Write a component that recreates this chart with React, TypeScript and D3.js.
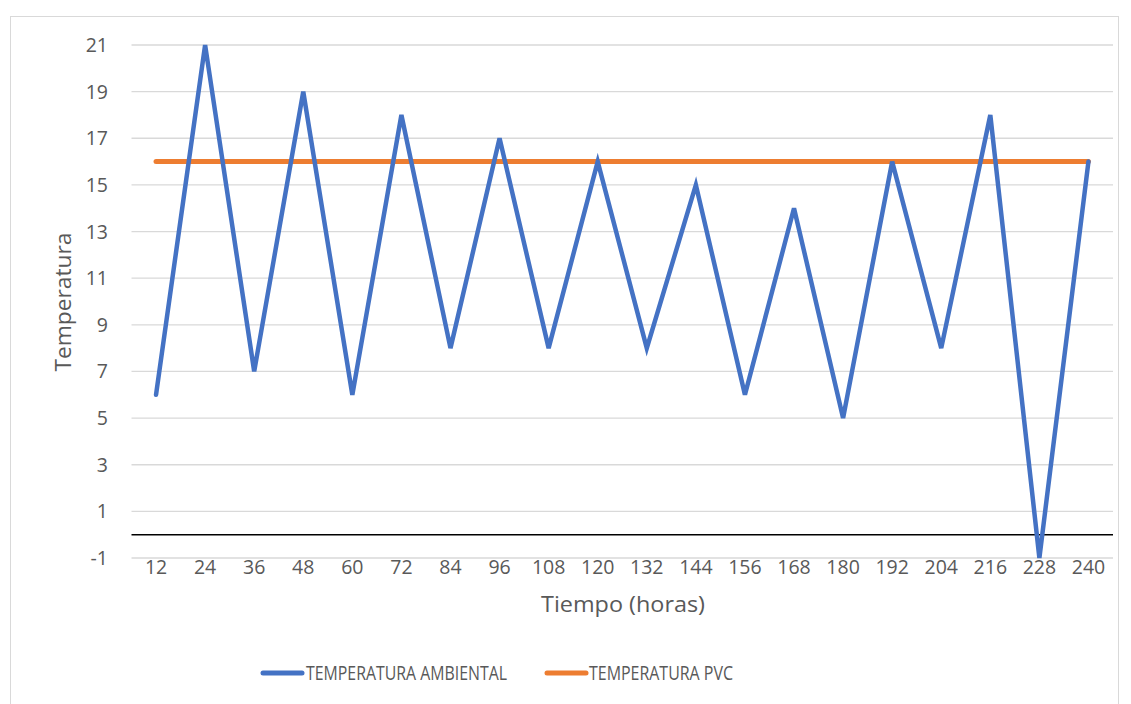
import React from "react";
import * as d3 from "d3";

const categories = [12, 24, 36, 48, 60, 72, 84, 96, 108, 120, 132, 144, 156, 168, 180, 192, 204, 216, 228, 240];
const ambiental = [6, 21, 7, 19, 6, 18, 8, 17, 8, 16, 8, 15, 6, 14, 5, 16, 8, 18, -1, 16];
const pvc = [16, 16, 16, 16, 16, 16, 16, 16, 16, 16, 16, 16, 16, 16, 16, 16, 16, 16, 16, 16];
const yTicks = [-1, 1, 3, 5, 7, 9, 11, 13, 15, 17, 19, 21];
const seriesNames = ["TEMPERATURA AMBIENTAL", "TEMPERATURA PVC"];
const colors = ["#4472C4", "#ED7D31"];

const W = 1131, H = 704;
const left = 131.5, right = 1113, top = 45, bottom = 558;
const FONT = "'Open Sans', 'Noto Sans', sans-serif";

export default function App() {
  const x = d3.scaleBand<number>().domain(categories).range([left, right]);
  const y = d3.scaleLinear().domain([-1, 21]).range([bottom, top]);
  const cx = (c: number) => (x(c) as number) + x.bandwidth() / 2;
  const line = d3.line<number>().x((_, i) => cx(categories[i])).y((v) => y(v));

  return (
    <svg width={W} height={H} style={{ position: "absolute", left: 0, top: 0, fontFamily: FONT }}>
      <rect x={0} y={0} width={W} height={H} fill="#fff" />
      <rect x={10.5} y={16.5} width={1108} height={700} fill="#fff" stroke="#d9d9d9" strokeWidth={1} />
      {yTicks.map((t) => (
        <g key={t}>
          <line x1={left} x2={right} y1={y(t)} y2={y(t)} stroke="#d9d9d9" strokeWidth={1.3} />
          <text x={108} y={y(t)} dy="0.36em" textAnchor="end" fontSize={19.5} fill="#595959">{t}</text>
        </g>
      ))}
      <line x1={left} x2={right} y1={y(0)} y2={y(0)} stroke="#000" strokeWidth={1.5} />
      {categories.map((c) => (
        <text key={c} x={cx(c)} y={567} dy="0.36em" textAnchor="middle" fontSize={19.5} fill="#595959">{c}</text>
      ))}
      <text x={623} y={604} dy="0.36em" textAnchor="middle" fontSize={21} fill="#595959" textLength={164} lengthAdjust="spacingAndGlyphs">Tiempo (horas)</text>
      <text transform={`translate(63,302) rotate(-90)`} dy="0.36em" textAnchor="middle" fontSize={21} fill="#595959" textLength={139} lengthAdjust="spacingAndGlyphs">Temperatura</text>
      <path d={line(pvc) || ""} fill="none" stroke={colors[1]} strokeWidth={5} strokeLinecap="round" strokeLinejoin="round" />
      <path d={line(ambiental) || ""} fill="none" stroke={colors[0]} strokeWidth={4.5} strokeLinecap="round" strokeLinejoin="miter" />
      <g>
        <line x1={263} x2={302} y1={673} y2={673} stroke={colors[0]} strokeWidth={5} strokeLinecap="round" />
        <text x={306} y={673} dy="0.36em" fontSize={20} fill="#595959" textLength={201} lengthAdjust="spacingAndGlyphs">{seriesNames[0]}</text>
        <line x1={547} x2={586} y1={673} y2={673} stroke={colors[1]} strokeWidth={5} strokeLinecap="round" />
        <text x={589} y={673} dy="0.36em" fontSize={20} fill="#595959" textLength={144} lengthAdjust="spacingAndGlyphs">{seriesNames[1]}</text>
      </g>
    </svg>
  );
}
